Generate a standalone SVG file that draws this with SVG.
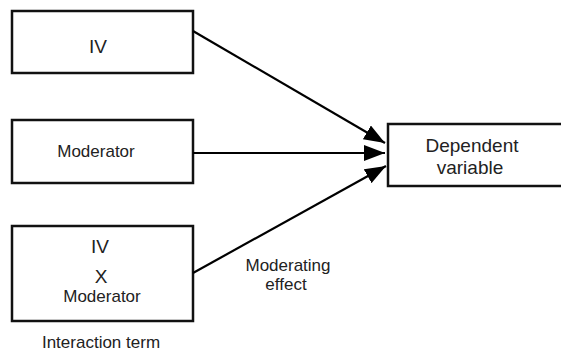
<svg xmlns="http://www.w3.org/2000/svg" width="561" height="352" viewBox="0 0 561 352">
<style>
.box{fill:#fff;stroke:#111;stroke-width:2.5}
.t{font-family:"Liberation Sans",Arial,sans-serif;font-size:17px;fill:#222;text-anchor:middle}
.big{font-size:19px}
.iv{font-size:19px}
.edge{stroke:#000;stroke-width:2.2;fill:none;marker-end:url(#ah)}
</style>
<defs>
<marker id="ah" markerUnits="userSpaceOnUse" markerWidth="22" markerHeight="16" refX="21" refY="8" orient="auto">
<path d="M0,0 L21,8 L0,16 Z" fill="#000"/>
</marker>
</defs>
<rect width="561" height="352" fill="#fff"/>
<g id="iv">
<rect class="box" x="12" y="11" width="181" height="62"/>
<text class="t iv" x="98" y="53">IV</text>
</g>
<g id="moderator">
<rect class="box" x="12" y="120" width="181" height="63"/>
<text class="t" x="96" y="157">Moderator</text>
</g>
<g id="interaction">
<rect class="box" x="12" y="226" width="181" height="95"/>
<text class="t iv" x="100" y="253">IV</text>
<text class="t iv" x="101" y="283">X</text>
<text class="t" x="102" y="302">Moderator</text>
<text class="t" x="101" y="348">Interaction term</text>
</g>
<g id="dependent">
<rect class="box" x="388" y="124" width="180" height="62"/>
<text class="t big" x="472" y="152">Dependent</text>
<text class="t big" x="470" y="174">variable</text>
</g>
<g id="connectors">
<line class="edge" x1="193" y1="31" x2="385" y2="143"/>
<line class="edge" x1="193" y1="153" x2="385" y2="153"/>
<line class="edge" x1="193" y1="273" x2="386" y2="166"/>
<text class="t" x="288" y="271">Moderating</text>
<text class="t" x="286" y="290">effect</text>
</g>
</svg>
